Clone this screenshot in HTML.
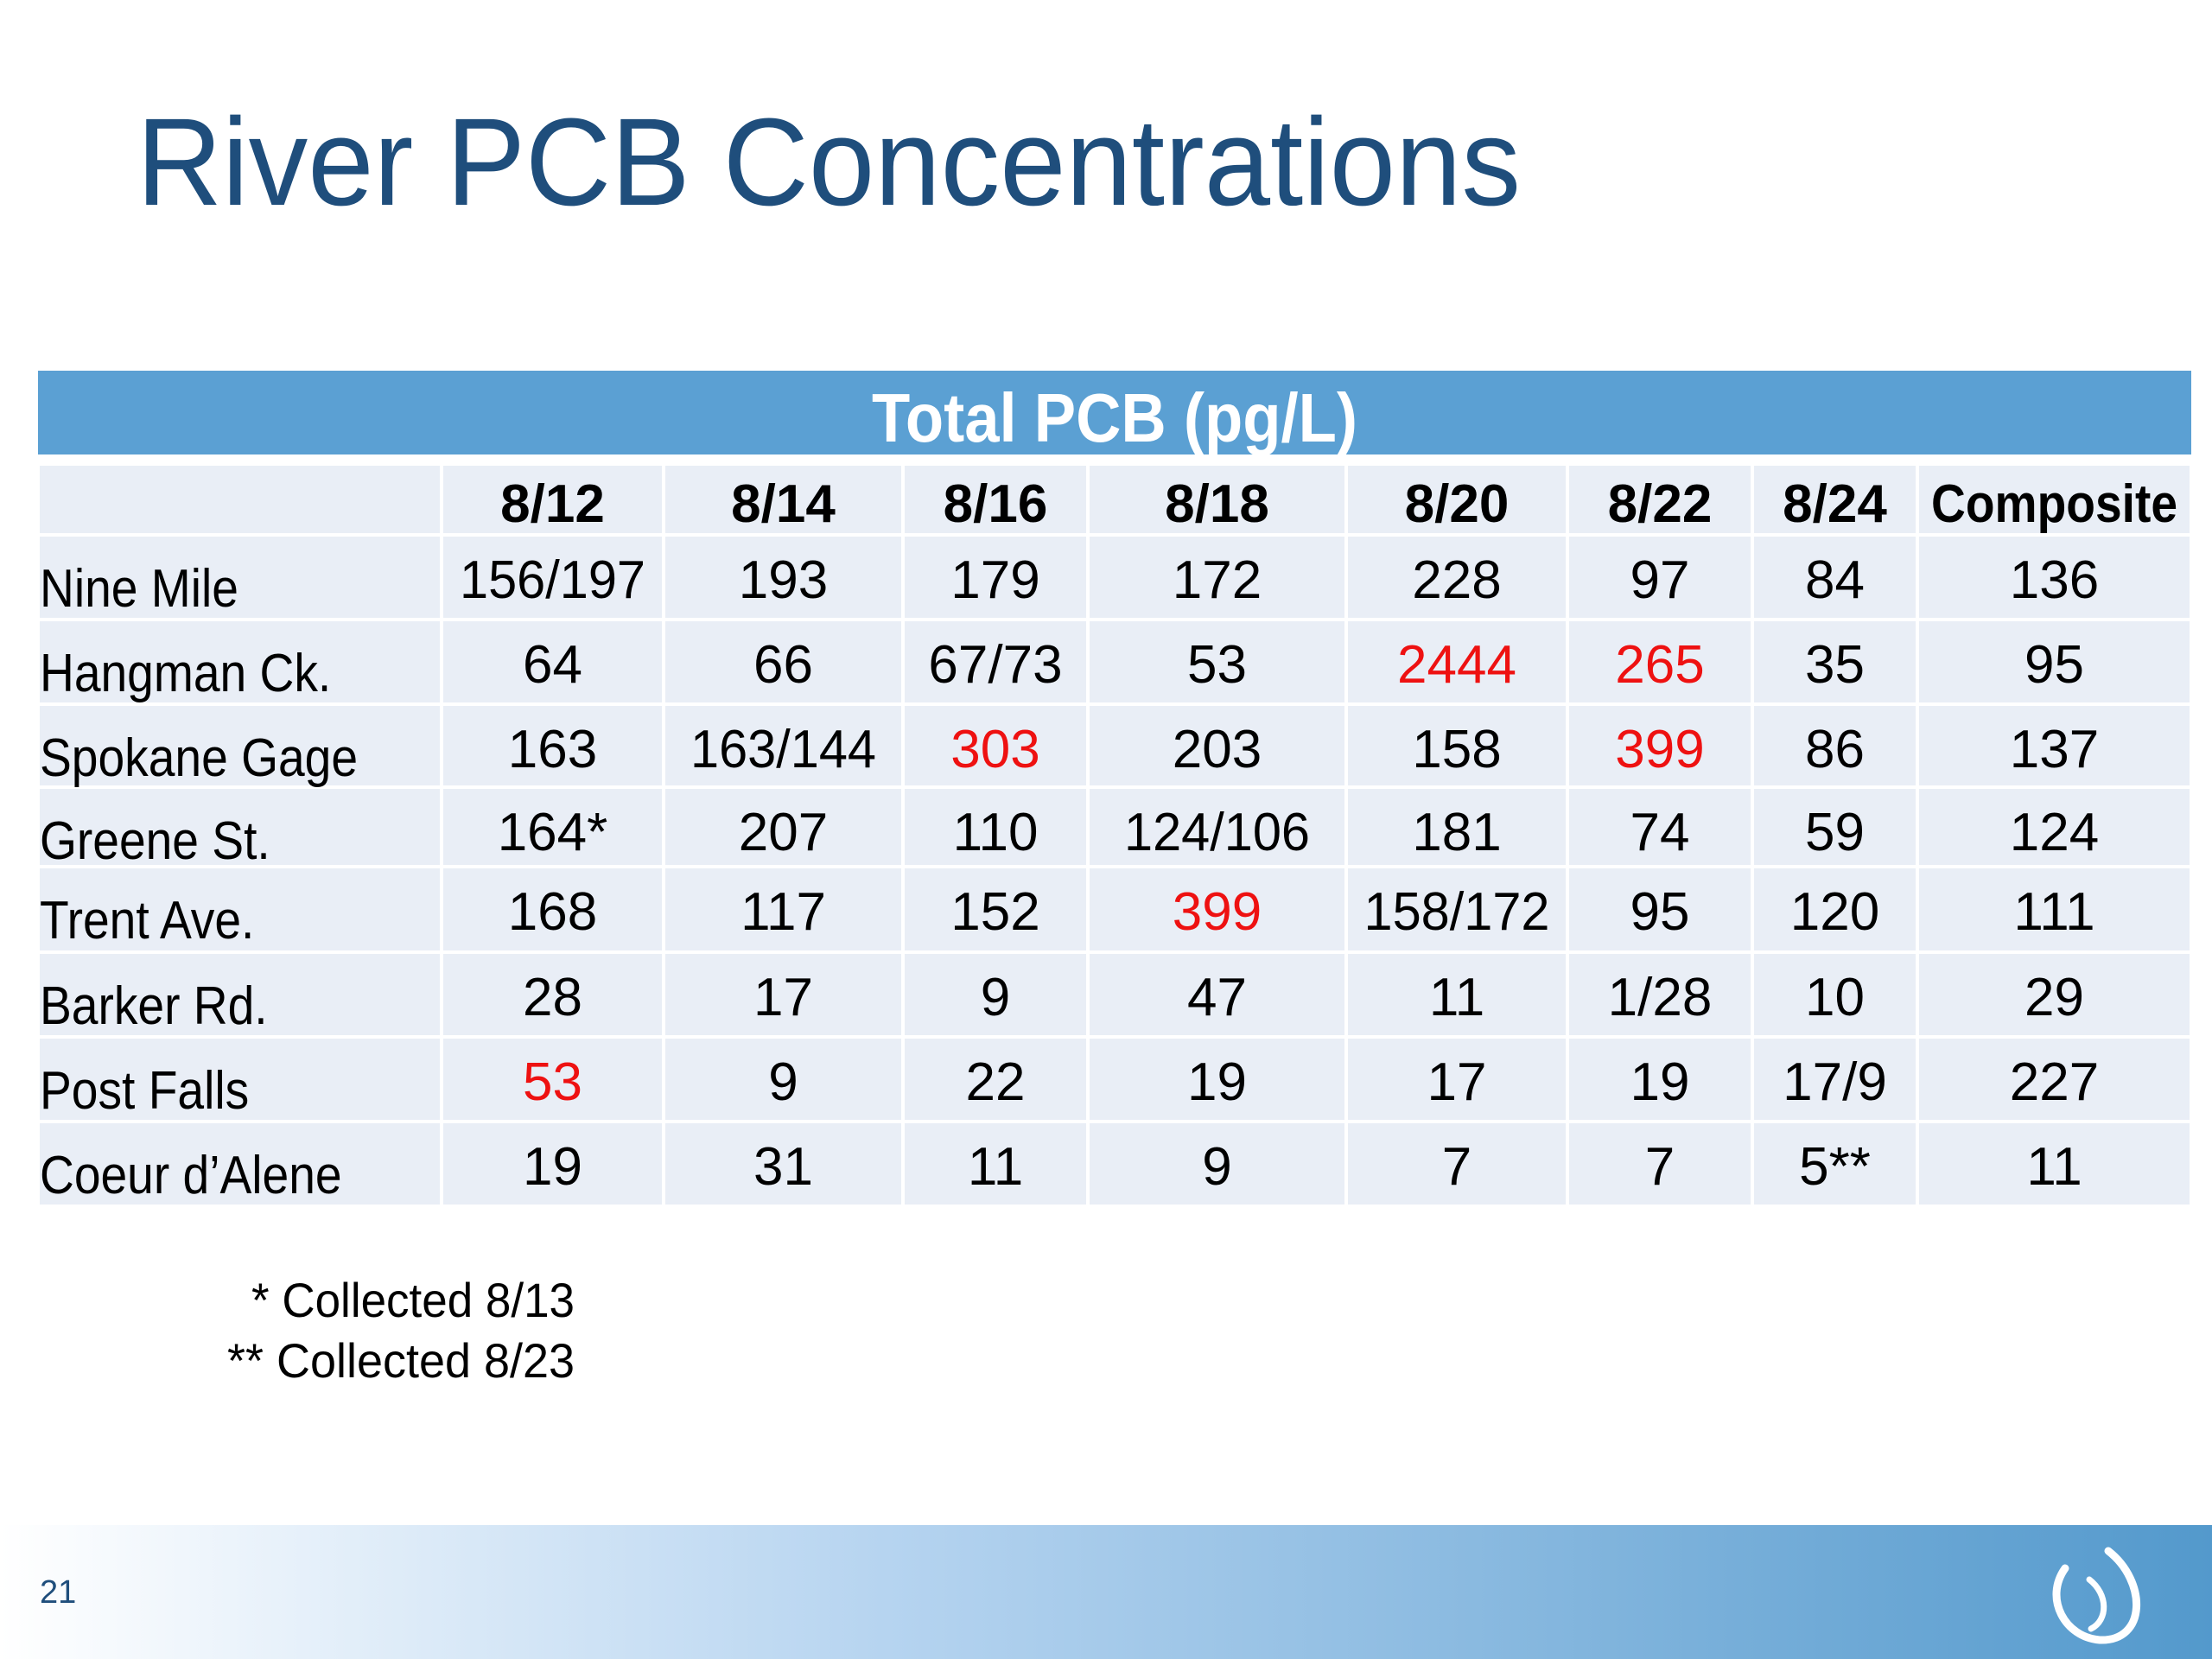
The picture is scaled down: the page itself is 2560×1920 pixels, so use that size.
<!DOCTYPE html>
<html><head><meta charset="utf-8"><style>
html,body{margin:0;padding:0;background:#fff;}
svg{display:block;}
text{font-family:"Liberation Sans",sans-serif;}
</style></head><body>
<svg id="s" width="2560" height="1920" viewBox="0 0 2560 1920">
<defs>
<linearGradient id="fg" x1="0" x2="1" y1="0" y2="0">
<stop offset="0" stop-color="#ffffff"/>
<stop offset="0.4" stop-color="#b6d4f0"/>
<stop offset="1" stop-color="#5399cc"/>
</linearGradient>
</defs>
<text x="158" y="237" font-size="144" fill="#1f4e7c" textLength="1602" lengthAdjust="spacingAndGlyphs">River PCB Concentrations</text>
<rect x="44" y="429" width="2492" height="97" fill="#5ba0d3"/>
<text x="1290" y="511" font-size="80" font-weight="bold" fill="#fff" text-anchor="middle" textLength="562" lengthAdjust="spacingAndGlyphs">Total PCB (pg/L)</text>
<g id="tbl"></g>
<text x="665" y="1524" font-size="56" text-anchor="end" fill="#000" textLength="374" lengthAdjust="spacingAndGlyphs">* Collected 8/13</text>
<text x="665" y="1594" font-size="56" text-anchor="end" fill="#000" textLength="402" lengthAdjust="spacingAndGlyphs">** Collected 8/23</text>
<rect x="0" y="1765" width="2560" height="155" fill="url(#fg)"/>
<text x="46" y="1855" font-size="38" fill="#1f4e7c">21</text>
<g fill="none" stroke="#fff" stroke-linecap="round">
<path d="M2440 1795 C2485 1830 2485 1900 2430 1898 C2390 1895 2365 1850 2390 1815" stroke-width="9"/>
<path d="M2418 1828 C2440 1845 2440 1875 2420 1885" stroke-width="7"/>
</g>
</svg>
<script>
const columns = ["8/12","8/14","8/16","8/18","8/20","8/22","8/24","Composite"];
const sites = ["Nine Mile","Hangman Ck.","Spokane Gage","Greene St.","Trent Ave.","Barker Rd.","Post Falls","Coeur d\u2019Alene"];
const values = [
["156/197","193","179","172","228","97","84","136"],
["64","66","67/73","53","2444","265","35","95"],
["163","163/144","303","203","158","399","86","137"],
["164*","207","110","124/106","181","74","59","124"],
["168","117","152","399","158/172","95","120","111"],
["28","17","9","47","11","1/28","10","29"],
["53","9","22","19","17","19","17/9","227"],
["19","31","11","9","7","7","5**","11"]];
const flagged = [[1,4],[1,5],[2,2],[2,5],[4,3],[6,0]];

const colX=[44,511,768,1045,1259,1558,1814,2028,2219,2536];
const rowY=[537,619,717,815,911,1003,1102,1200,1298,1396];
const NS="http://www.w3.org/2000/svg";
const g=document.getElementById('tbl');
function mk(tag,attrs){const e=document.createElementNS(NS,tag);for(const k in attrs)e.setAttribute(k,attrs[k]);return e;}
for(let r=0;r<rowY.length-1;r++){
  for(let c=0;c<colX.length-1;c++){
    const rc=mk('rect',{x:colX[c]+2,y:rowY[r]+2,width:colX[c+1]-colX[c]-4,height:rowY[r+1]-rowY[r]-4,fill:'#e9eef6'});
    
    
    g.appendChild(rc);
  }
}
columns.forEach((cn,i)=>{
  const cx=(colX[i+1]+colX[i+2])/2;
  const t=mk('text',{x:cx,y:rowY[0]+67,'font-size':62,'font-weight':'bold','text-anchor':'middle',fill:'#000'});
  if(cn.length>6){t.setAttribute('textLength',285);t.setAttribute('lengthAdjust','spacingAndGlyphs');}
  t.textContent=cn;
  
  
  g.appendChild(t);
});
sites.forEach((s,r)=>{
  const y0=rowY[r+1];
  const t=mk('text',{x:46,y:y0+83,'font-size':62,fill:'#000',transform:'translate(46 0) scale(0.89 1) translate(-46 0)'});
  t.textContent=s;
  
  
  g.appendChild(t);
  values[r].forEach((v,c)=>{
    const red=flagged.some(f=>f[0]===r&&f[1]===c);
    const cx=(colX[c+1]+colX[c+2])/2;
    const tv=mk('text',{x:cx,y:y0+73,'font-size':62,'text-anchor':'middle',fill:red?'#ee1111':'#000'});
    if(v.length>=7){tv.setAttribute('textLength',215);tv.setAttribute('lengthAdjust','spacingAndGlyphs');}
    tv.textContent=v;
    
    
    g.appendChild(tv);
  });
});
</script>
</body></html>
